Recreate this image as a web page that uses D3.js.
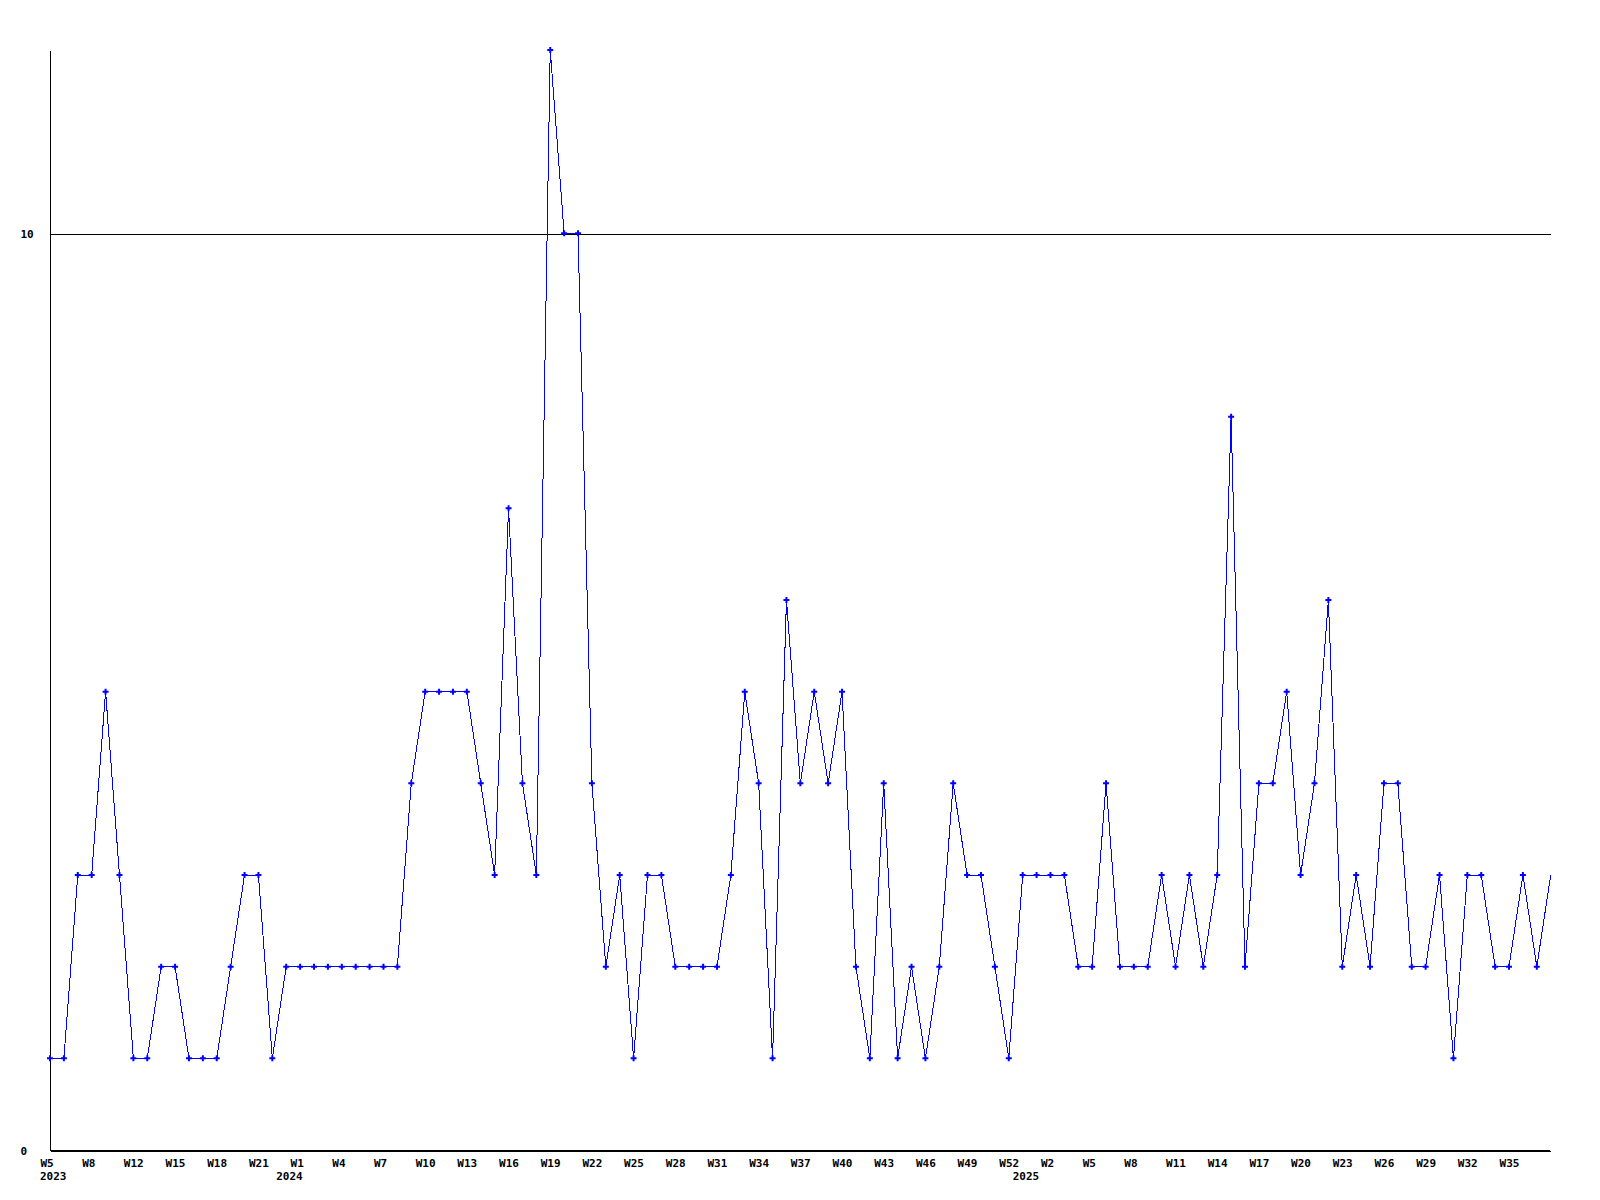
<!DOCTYPE html>
<html>
<head>
<meta charset="utf-8">
<script src="https://cdn.jsdelivr.net/npm/d3@7"></script>
<style>
  html, body { margin: 0; padding: 0; background: #fff; }
  svg { display: block; }
  text { font-family: "DejaVu Sans Mono", monospace; font-weight: bold; font-size: 11px; fill: #000; }
</style>
</head>
<body>
<svg id="chart" width="1600" height="1200"></svg>
<script>
// ---- data ----
const values = [
  1,1,3,3,5,3,1,1,2,2,1,1,1,2,3,3,1,2,2,2,
  2,2,2,2,2,2,4,5,5,5,5,4,3,7,4,3,12,10,10,4,
  2,3,1,3,3,2,2,2,2,3,5,4,1,6,4,5,4,5,2,1,
  4,1,2,1,2,4,3,3,2,1,3,3,3,3,2,2,4,2,2,2,
  3,2,3,2,3,8,2,4,4,5,3,4,6,2,3,2,4,4,2,2,
  3,1,3,3,2,2,3,2,3
];
const weekTickLabels = ['W5','W8','W12','W15','W18','W21','W1','W4','W7','W10','W13','W16',
  'W19','W22','W25','W28','W31','W34','W37','W40','W43','W46','W49','W52',
  'W2','W5','W8','W11','W14','W17','W20','W23','W26','W29','W32','W35'];
const weekTickEvery = 3;
const yearLabels = ['2023','2024','2025'];
const yearStartIndex = [0, 17, 70];
const yTickValues = [0, 10];
const yMax = 12;

// ---- chart ----
(function () {
const svg = d3.select('#chart');
const mLeft = 50, mRight = 1550.7, mTop = 50, mBottom = 1150;

const idx = d3.range(values.length);
const x = d3.scalePoint().domain(idx).range([mLeft, mRight]);
const y = d3.scaleLinear().domain([0, yMax]).range([mBottom, mTop]);

// y axis with gridline at 10
const yAxis = d3.axisLeft(y).tickValues(yTickValues).tickSizeInner(-(1550 - mLeft)).tickSizeOuter(0).tickPadding(0);
const gy = svg.append('g').attr('transform', `translate(${mLeft + 0.5},0.5)`).call(yAxis);
gy.select('.domain').attr('stroke', '#000').attr('shape-rendering', 'crispEdges')
  .attr('d', `M0,${mTop}V${mBottom}`);
gy.selectAll('.tick line').attr('stroke', '#000').attr('shape-rendering', 'crispEdges');
gy.selectAll('.tick text').attr('x', -30).attr('text-anchor', 'start').attr('dy', '0.35em')
  .style('font-family', '"DejaVu Sans Mono", monospace').style('font-weight', 'bold').style('font-size', '11px');

// x axis
const tickIdx = weekTickLabels.map((_, k) => k * weekTickEvery);
const xAxis = d3.axisBottom(x).tickValues(tickIdx)
  .tickFormat(i => weekTickLabels[i / weekTickEvery]).tickSize(0).tickPadding(0);
const gx = svg.append('g').attr('transform', `translate(0,${mBottom + 0.5})`).call(xAxis);
gx.select('.domain').attr('stroke', '#000').attr('shape-rendering', 'crispEdges')
  .attr('d', `M${mLeft},0H1550`);
gx.selectAll('.tick text').attr('x', -10).attr('text-anchor', 'start').attr('y', 16).attr('dy', 0)
  .style('font-family', '"DejaVu Sans Mono", monospace').style('font-weight', 'bold').style('font-size', '11px');

// year labels
svg.append('g').selectAll('text').data(yearLabels).join('text')
  .attr('x', (d, k) => x(yearStartIndex[k]) - 10)
  .attr('y', mBottom + 30)
  .text(d => d);

// line
const line = d3.line().x((d, i) => x(i)).y(d => y(d));
svg.append('path').datum(values)
  .attr('d', line)
  .attr('fill', 'none')
  .attr('stroke', '#0000ff')
  .attr('stroke-width', 1)
  .attr('shape-rendering', 'crispEdges');

// markers (all but the last point)
const sym = d3.symbol().type(d3.symbolCross).size(20);
svg.append('g').selectAll('path').data(values.slice(0, -1)).join('path')
  .attr('transform', (d, i) => `translate(${x(i)},${y(d)})`)
  .attr('d', sym)
  .attr('fill', '#0000ff');
})();
</script>
</body>
</html>
